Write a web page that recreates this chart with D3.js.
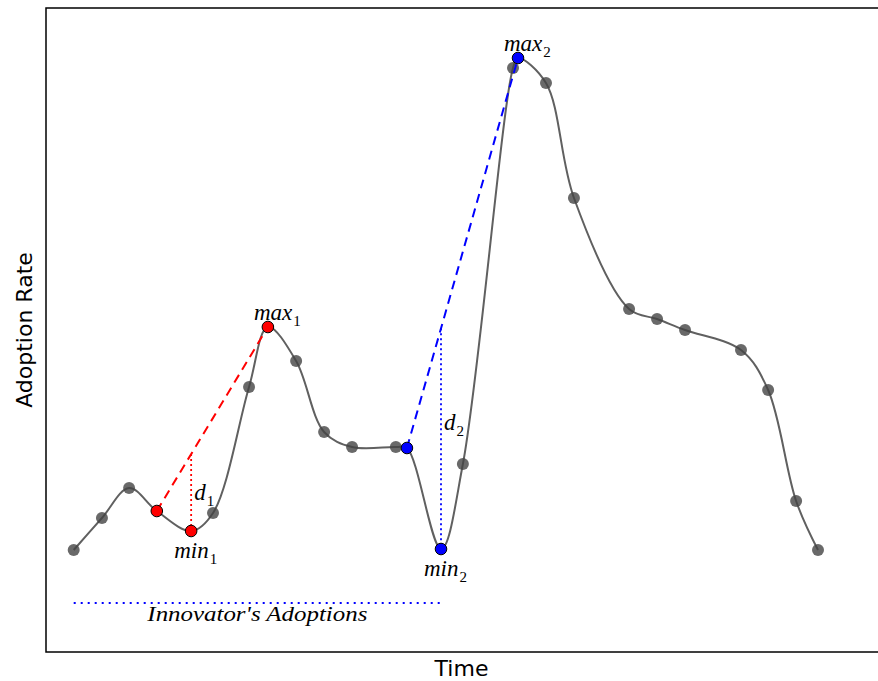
<!DOCTYPE html>
<html>
<head>
<meta charset="utf-8">
<script src="https://cdn.jsdelivr.net/npm/d3@7"></script>
<style>
  html, body { margin: 0; padding: 0; background: #fff; }
  svg { display: block; }
  .math { font-family: "Liberation Serif", "DejaVu Serif", serif; font-style: italic; fill: #000; }
  .axis-label { font-family: "DejaVu Sans", sans-serif; font-size: 22px; fill: #000; }
</style>
</head>
<body>
<svg id="chart" width="878" height="681"></svg>
<script>
// Sampled adoption-rate observations over time
const sampleTime = [0, 1.02, 2.0, 5.03, 6.33, 8.03, 9.04, 10.05, 11.63, 14.05, 15.86, 17.05, 18.06, 20.05, 21.06, 22.07, 24.09, 25.07, 26.08, 26.87];
const sampleRate = [10, 16.4, 22.4, 17.4, 42.6, 47.8, 33.6, 30.6, 30.6, 27.2, 106.4, 103.4, 80.4, 58.2, 56.2, 54.0, 50.0, 42.0, 19.8, 10];

// Two adoption phases: start of the climb, local minimum, local maximum
const phaseIds    = ["1", "2"];
const phaseColors = ["#ff0000", "#0000ff"];
const startTime   = [3.0, 12.03];
const startRate   = [17.8, 30.4];
const minTime     = [4.24, 13.26];
const minRate     = [13.8, 10.2];
const maxTime     = [7.01, 16.04];
const maxRate     = [54.6, 108.4];

// Innovator's adoptions span
const innovatorSpan = [0, 13.26];
const innovatorRate = -0.6;

const svg = d3.select("#chart");
const frame = { left: 46, top: 8, right: 881, bottom: 652 };

const x = d3.scaleLinear().domain([-1, 29]).range([46, 877]);
const y = d3.scaleLinear().domain([-10.4, 118.4]).range([652, 8]);

// frame
svg.append("rect")
  .attr("x", frame.left).attr("y", frame.top)
  .attr("width", frame.right - frame.left).attr("height", frame.bottom - frame.top)
  .attr("fill", "none").attr("stroke", "#000").attr("stroke-width", 1.5);

// curve knots: samples plus the phase markers, ordered in time
const knots = [];
sampleTime.forEach((t, i) => knots.push([t, sampleRate[i]]));
phaseIds.forEach((p, i) => {
  knots.push([startTime[i], startRate[i]]);
  knots.push([minTime[i], minRate[i]]);
  knots.push([maxTime[i], maxRate[i]]);
});
knots.sort((a, b) => a[0] - b[0]);

const line = d3.line()
  .x(d => x(d[0])).y(d => y(d[1]))
  .curve(d3.curveCatmullRom.alpha(0.5));

svg.append("path")
  .datum(knots)
  .attr("d", line)
  .attr("fill", "none")
  .attr("stroke", "#606060")
  .attr("stroke-width", 2);

// sample points
svg.append("g").selectAll("circle")
  .data(sampleTime.map((t, i) => [t, sampleRate[i]]))
  .join("circle")
  .attr("cx", d => x(d[0])).attr("cy", d => y(d[1]))
  .attr("r", 6)
  .attr("fill", "#444")
  .attr("fill-opacity", 0.8);

// phase guides
phaseIds.forEach((p, i) => {
  const col = phaseColors[i];
  // dashed line from the climb start to the maximum
  svg.append("line")
    .attr("x1", x(startTime[i])).attr("y1", y(startRate[i]))
    .attr("x2", x(maxTime[i])).attr("y2", y(maxRate[i]))
    .attr("stroke", col).attr("stroke-width", 2)
    .attr("stroke-dasharray", "9,6");

  // dotted drop from the dashed line down to the minimum
  const frac = (minTime[i] - startTime[i]) / (maxTime[i] - startTime[i]);
  const rateOnDash = startRate[i] + frac * (maxRate[i] - startRate[i]);
  svg.append("line")
    .attr("x1", x(minTime[i])).attr("y1", y(rateOnDash))
    .attr("x2", x(minTime[i])).attr("y2", y(minRate[i]))
    .attr("stroke", col).attr("stroke-width", 1.8)
    .attr("stroke-dasharray", "2,3");

  // markers
  [[startTime[i], startRate[i]], [minTime[i], minRate[i]], [maxTime[i], maxRate[i]]].forEach(pt => {
    svg.append("circle")
      .attr("cx", x(pt[0])).attr("cy", y(pt[1]))
      .attr("r", 5.8)
      .attr("fill", col)
      .attr("stroke", "#000").attr("stroke-width", 1);
  });

  // labels
  const mathLabel = (px, py, base, sub) => {
    const t = svg.append("text").attr("class", "math")
      .attr("x", px).attr("y", py).style("font-size", "23px");
    t.append("tspan").text(base);
    t.append("tspan").attr("dy", 6).attr("dx", 1)
      .style("font-size", "15px").style("font-style", "normal").text(sub);
  };
  mathLabel(x(maxTime[i]) - 14, y(maxRate[i]) - 7, "max", p);
  mathLabel(x(minTime[i]) - 17, y(minRate[i]) + 27, "min", p);
  const dLabelFrac = [0.6, 0.46][i];
  const yTop = y(rateOnDash), yBot = y(minRate[i]);
  mathLabel(x(minTime[i]) + 3, yTop + dLabelFrac * (yBot - yTop), "d", p);
});

// innovator's adoptions span
svg.append("line")
  .attr("x1", x(innovatorSpan[0])).attr("y1", y(innovatorRate))
  .attr("x2", x(innovatorSpan[1])).attr("y2", y(innovatorRate))
  .attr("stroke", "#0000ff").attr("stroke-width", 1.8)
  .attr("stroke-dasharray", "2,5");

svg.append("text").attr("class", "math")
  .attr("x", (x(innovatorSpan[0]) + x(innovatorSpan[1])) / 2)
  .attr("y", y(innovatorRate) + 18)
  .attr("text-anchor", "middle")
  .attr("textLength", 220)
  .attr("lengthAdjust", "spacingAndGlyphs")
  .style("font-size", "22px")
  .text("Innovator's Adoptions");

// axis titles
svg.append("text").attr("class", "axis-label")
  .attr("x", (frame.left + 877) / 2).attr("y", 676)
  .attr("text-anchor", "middle")
  .text("Time");

svg.append("text").attr("class", "axis-label")
  .attr("transform", `translate(32, ${(frame.top + frame.bottom) / 2}) rotate(-90)`)
  .attr("text-anchor", "middle")
  .text("Adoption Rate");
</script>
</body>
</html>
